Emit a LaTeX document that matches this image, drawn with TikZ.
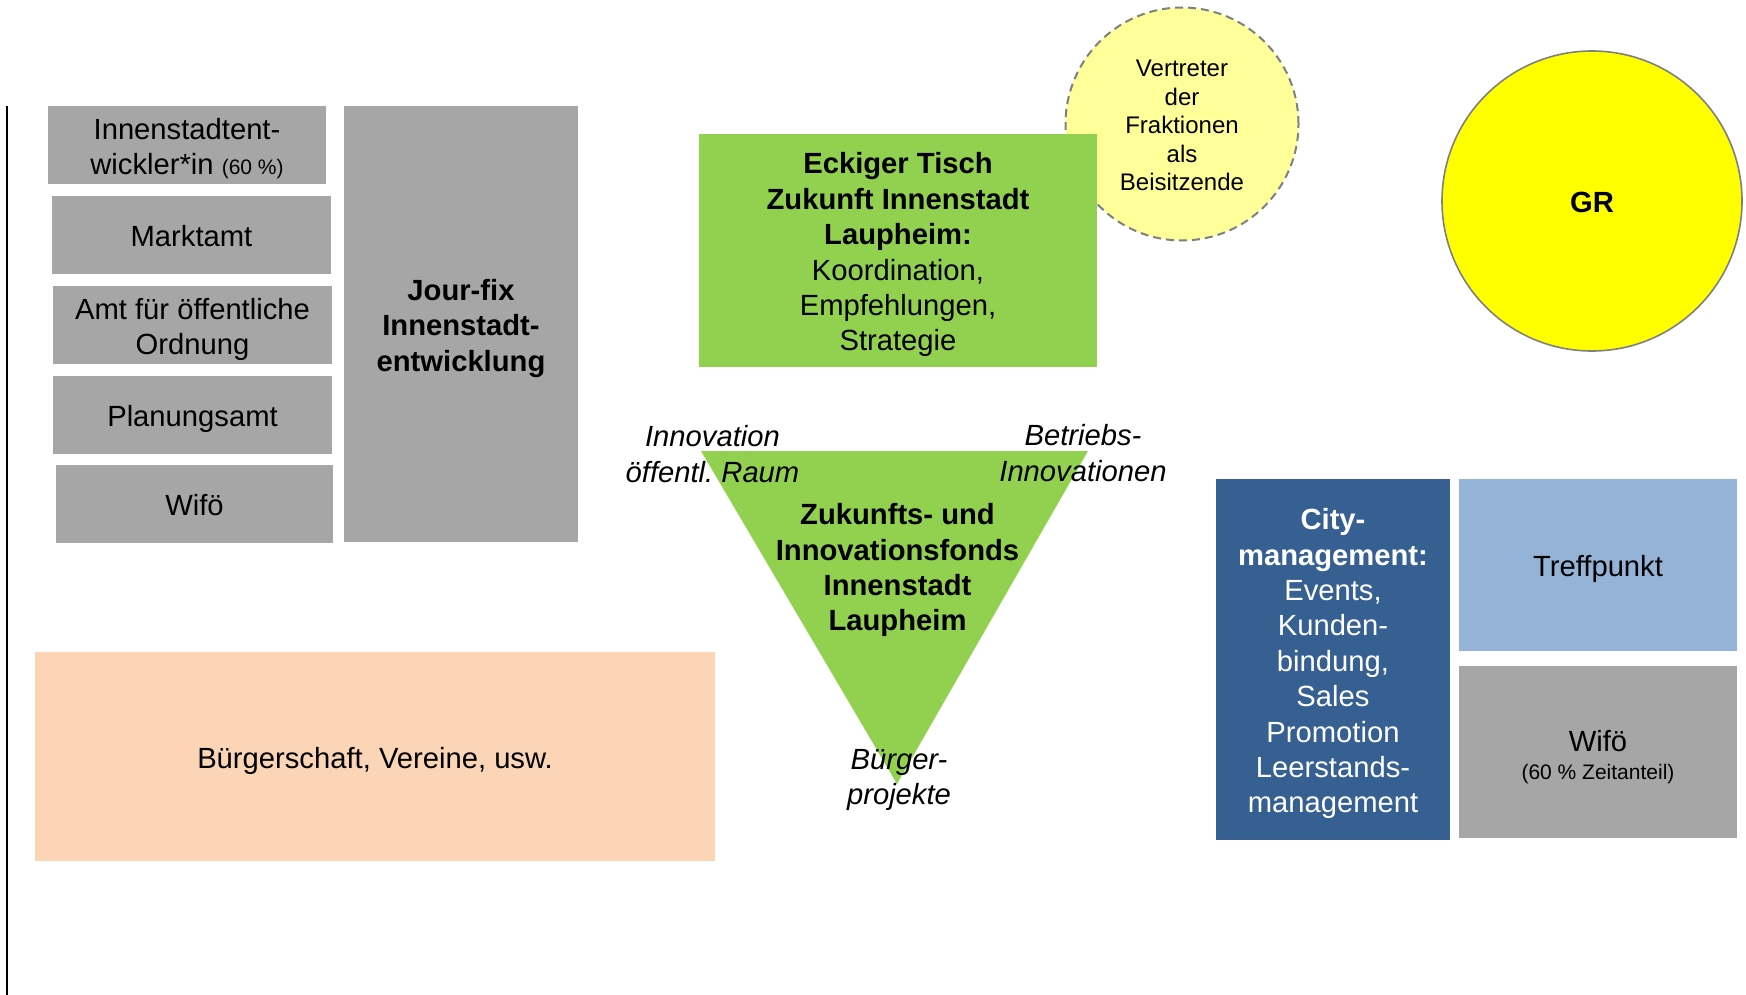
\documentclass[tikz,border=0pt]{standalone}
\usepackage{fontspec}
\setmainfont{Liberation Sans}
\frenchspacing
\definecolor{boxgray}{HTML}{A6A6A6}
\definecolor{tischgreen}{HTML}{92D050}
\definecolor{paleyellow}{HTML}{FFFF99}
\definecolor{gryellow}{HTML}{FFFF00}
\definecolor{circlegray}{HTML}{7F7F7F}
\definecolor{peach}{HTML}{FBD5B5}
\definecolor{cityblue}{HTML}{376092}
\definecolor{lightblue}{HTML}{95B3D7}
\newcommand{\tp}{\rule{0pt}{11.8pt}}
\begin{document}
\begin{tikzpicture}[x=0.5pt,y=-0.5pt,
  txt/.style={font=\fontsize{14.6}{17.7}\selectfont},
  smalltxt/.style={font=\fontsize{12}{14.3}\selectfont},
  rbox/.style={rectangle, inner sep=0pt, align=center, text depth=0pt, txt},
  graybox/.style={rbox, fill=boxgray},
  lbl/.style={align=center, inner sep=0pt, text depth=0pt, font=\fontsize{14.6}{17.7}\selectfont\itshape}
]
\useasboundingbox (0,0) rectangle (1746,995);

% left vertical line
\coordinate (lt) at (7,106);
\coordinate (lb) at (7,995);
\draw[line width=1pt] (lt) -- (lb);

% left stacked boxes
\node[graybox, minimum width=139pt, minimum height=39pt] (inn) at (187,145)
  {\tp Innenstadtent-\\wickler*in {\fontsize{10.5}{12}\selectfont (60 \%)}};
\node[graybox, minimum width=139.5pt, minimum height=39pt] (markt) at (191.5,235) {\tp Marktamt};
\node[graybox, minimum width=139.5pt, minimum height=39pt] (amt) at (192.5,325) {\tp Amt für öffentliche\\Ordnung};
\node[graybox, minimum width=139.5pt, minimum height=39pt] (plan) at (192.5,415) {\tp Planungsamt};
\node[graybox, minimum width=138.5pt, minimum height=39pt] (wifo) at (194.5,504) {\tp Wifö};
\node[graybox, minimum width=117pt, minimum height=218pt] (jour) at (461,324)
  {\tp\textbf{Jour-fix}\\\textbf{Innenstadt-}\\\textbf{entwicklung}};

% Vertreter circle (behind green box)
\node[circle, fill=paleyellow, draw=circlegray, line width=1pt, dash pattern=on 4pt off 2.5pt,
  minimum size=116.5pt, inner sep=0pt, align=center, text depth=0pt, smalltxt] (vert) at (1182,124)
  {\rule{0pt}{9.8pt}Vertreter\\der\\Fraktionen\\als\\Beisitzende};

% Eckiger Tisch
\node[rbox, fill=tischgreen, minimum width=199pt, minimum height=116.5pt] (eck) at (898,250.5)
  {\tp\textbf{Eckiger Tisch}\\\textbf{Zukunft Innenstadt}\\\textbf{Laupheim:}\\Koordination,\\Empfehlungen,\\Strategie};

% GR circle
\node[circle, fill=gryellow, draw=circlegray, line width=0.8pt, minimum size=150pt,
  inner sep=0pt, txt] (gr) at (1592,201) {\tp\textbf{GR}};

% triangle
\coordinate (t1) at (701,451);
\coordinate (t2) at (1088,451);
\coordinate (t3) at (897,784);
\fill[tischgreen] (t1) -- (t2) -- (t3) -- cycle;
\node[align=center, inner sep=0pt, text depth=0pt, txt] (fonds) at (897.5,566)
  {\tp\textbf{Zukunfts- und}\\\textbf{Innovationsfonds}\\\textbf{Innenstadt}\\\textbf{Laupheim}};

% triangle labels
\node[lbl] (innov) at (712.5,454) {Innovation\\öffentl.\ Raum};
\node[lbl] (betr) at (1083,453) {Betriebs-\\Innovationen};
\node[lbl] (buerg) at (899,777) {Bürger-\\projekte};

% Bürgerschaft
\node[rbox, fill=peach, minimum width=340pt, minimum height=104.5pt] (buergerschaft) at (375,756.5)
  {\tp Bürgerschaft, Vereine, usw.};

% right boxes
\node[rbox, fill=cityblue, text=white, minimum width=117pt, minimum height=180.5pt] (city) at (1333,659.5)
  {\tp\textbf{City-}\\\textbf{management:}\\Events,\\Kunden-\\bindung,\\Sales\\Promotion\\Leerstands-\\management};
\node[rbox, fill=lightblue, minimum width=139pt, minimum height=86pt] (treff) at (1598,565) {\tp Treffpunkt};
\node[graybox, minimum width=139pt, minimum height=86pt] (wifo2) at (1598,752)
  {\rule{0pt}{13pt}Wifö\\[-3.7pt]{\fontsize{10.5}{12}\selectfont (60 \% Zeitanteil)}};
\end{tikzpicture}
\end{document}
